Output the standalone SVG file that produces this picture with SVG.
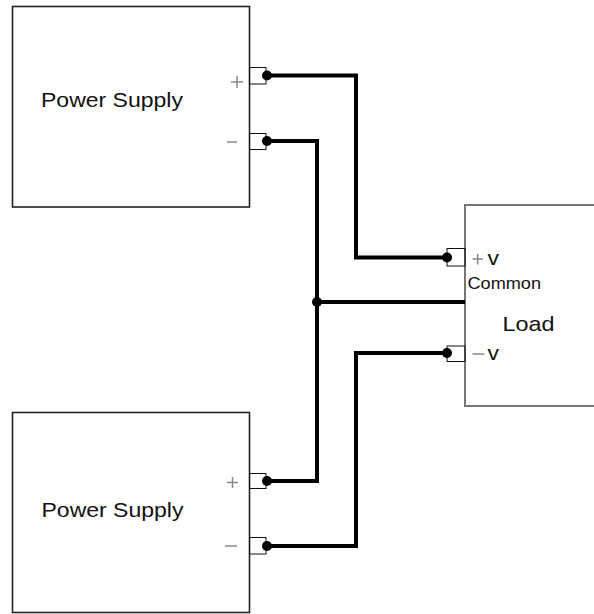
<svg xmlns="http://www.w3.org/2000/svg" width="594" height="614" viewBox="0 0 594 614">
<style>
.box{fill:#fff;stroke:#222;stroke-width:1.6}
.load{fill:#fff;stroke:#777;stroke-width:2}
.tab{fill:none;stroke:#111;stroke-width:1}
.wire{fill:none;stroke:#000;stroke-width:4;stroke-linejoin:miter}
.dot{fill:#000}
.lbl{font-family:"Liberation Sans",Arial,sans-serif;fill:#111}
.sign{stroke:#888;stroke-width:1.5;fill:none}
</style>
<rect width="594" height="614" fill="#fff"/>
<g id="ps1">
<rect class="box" x="12.5" y="6.5" width="237" height="200.5"/>
<text class="lbl" x="41" y="107" font-size="21" textLength="142" lengthAdjust="spacingAndGlyphs">Power Supply</text>
<rect class="tab" x="249.5" y="67.5" width="16.5" height="16.5"/>
<rect class="tab" x="249.5" y="133.5" width="16.5" height="16"/>
<path class="sign" d="M231 82h12M237 76v12"/>
<path class="sign" d="M227 142h10"/>
</g>
<g id="ps2">
<rect class="box" x="12.5" y="412.5" width="237" height="200"/>
<text class="lbl" x="41.5" y="517" font-size="21" textLength="142" lengthAdjust="spacingAndGlyphs">Power Supply</text>
<rect class="tab" x="249.5" y="473.5" width="16.5" height="15"/>
<rect class="tab" x="249.5" y="537.5" width="16.5" height="16.5"/>
<path class="sign" d="M227 482.5h11M232.5 477v11"/>
<path class="sign" d="M225 546h12"/>
</g>
<g id="load">
<rect class="load" x="465" y="205" width="140" height="201"/>
<rect class="tab" x="447" y="248.5" width="18" height="17.5"/>
<rect class="tab" x="447" y="346" width="18" height="15.5"/>
<text class="lbl" x="502.5" y="331" font-size="21" textLength="52" lengthAdjust="spacingAndGlyphs">Load</text>
<text class="lbl" x="467.5" y="289" font-size="16" textLength="73.5" lengthAdjust="spacingAndGlyphs">Common</text>
<path class="sign" d="M472.5 259h10.5M477.7 254v10.5"/>
<text class="lbl" x="487.5" y="265" font-size="21" fill="#444" textLength="11.5" lengthAdjust="spacingAndGlyphs">v</text>
<path class="sign" d="M472.5 354h12"/>
<text class="lbl" x="487.5" y="360" font-size="21" fill="#444" textLength="11.5" lengthAdjust="spacingAndGlyphs">v</text>
</g>
<g id="connectors">
<path class="wire" d="M267 75.5H356V257.5H447"/>
<path class="wire" d="M267 141H317V481H267"/>
<path class="wire" d="M317 302H465"/>
<path class="wire" d="M267 546H356V353H447"/>
<circle class="dot" cx="267" cy="75.5" r="5"/>
<circle class="dot" cx="267" cy="141" r="5"/>
<circle class="dot" cx="267" cy="481" r="5"/>
<circle class="dot" cx="267" cy="546" r="5"/>
<circle class="dot" cx="447" cy="257.5" r="5"/>
<circle class="dot" cx="447" cy="353" r="5"/>
<circle class="dot" cx="317" cy="302" r="5"/>
</g>
</svg>
